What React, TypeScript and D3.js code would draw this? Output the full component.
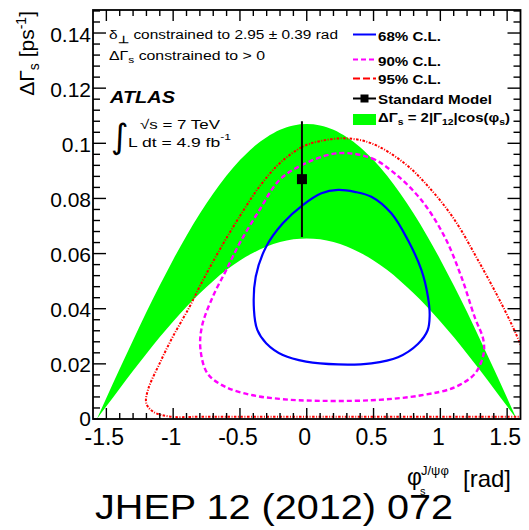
import React from "react";
import * as d3 from "d3";

// Band ΔΓs = 2|Γ12|cos(φs): edges sampled along φs
const phiGrid = [
  -1.5708, -1.5, -1.4, -1.3, -1.2, -1.1, -1.0, -0.9, -0.8, -0.7, -0.6, -0.5, -0.4, -0.3, -0.2, -0.1,
  0, 0.1, 0.2, 0.3, 0.4, 0.5, 0.6, 0.7, 0.8, 0.9, 1.0, 1.1, 1.2, 1.3, 1.4, 1.5, 1.5708,
];
const bandUpper = [
  0, 0.0076, 0.0182, 0.0286, 0.0388, 0.0485, 0.0578, 0.0665, 0.0745, 0.0818, 0.0883, 0.0939, 0.0986, 0.1022, 0.1049, 0.1065,
  0.107, 0.1065, 0.1049, 0.1022, 0.0986, 0.0939, 0.0883, 0.0818, 0.0745, 0.0665, 0.0578, 0.0485, 0.0388, 0.0286, 0.0182, 0.0076, 0,
];
const bandLower = [
  0, 0.0046, 0.0111, 0.0175, 0.0237, 0.0297, 0.0354, 0.0407, 0.0456, 0.0501, 0.0541, 0.0575, 0.0603, 0.0626, 0.0642, 0.0652,
  0.0655, 0.0652, 0.0642, 0.0626, 0.0603, 0.0575, 0.0541, 0.0501, 0.0456, 0.0407, 0.0354, 0.0297, 0.0237, 0.0175, 0.0111, 0.0046, 0,
];

// Likelihood contours in (φs [rad], ΔΓs [ps^-1])
const cl68: [number, number][] = [
  [0.234, 0.0831], [0.359, 0.0824], [0.484, 0.0806], [0.633, 0.0746], [0.757, 0.0649], [0.858, 0.0541],
  [0.907, 0.0444], [0.92, 0.0375], [0.905, 0.0322], [0.832, 0.0272], [0.683, 0.0224], [0.484, 0.0202],
  [0.234, 0.0198], [-0.005, 0.0208], [-0.179, 0.0232], [-0.304, 0.0275], [-0.37, 0.0323], [-0.395, 0.0395],
  [-0.382, 0.0516], [-0.304, 0.0625], [-0.179, 0.071], [-0.03, 0.0776], [0.11, 0.0819],
];
const cl90: [number, number][] = [
  [0.234, 0.0964], [0.484, 0.0946], [0.658, 0.0891], [0.858, 0.0794], [1.032, 0.0661], [1.157, 0.0516],
  [1.256, 0.0371], [1.322, 0.0287], [1.322, 0.0232], [1.256, 0.0163], [1.107, 0.0115], [0.858, 0.0086],
  [0.484, 0.0068], [-0.005, 0.0067], [-0.204, 0.0073], [-0.404, 0.0086], [-0.603, 0.0115], [-0.74, 0.0163],
  [-0.795, 0.025], [-0.785, 0.0335], [-0.703, 0.0444], [-0.603, 0.054], [-0.503, 0.0637], [-0.354, 0.0758],
  [-0.204, 0.0867], [-0.02, 0.0925],
];
const cl95: [number, number][] = [
  [1.66, 0.019], [1.604, 0.0265], [1.53, 0.0347], [1.43, 0.0444], [1.281, 0.0577], [1.107, 0.0722],
  [0.932, 0.0831], [0.733, 0.0927], [0.484, 0.1], [0.284, 0.1018], [0.1, 0.1008], [-0.03, 0.0988],
  [-0.204, 0.0927], [-0.354, 0.0843], [-0.503, 0.0734], [-0.653, 0.0613], [-0.802, 0.048], [-0.877, 0.0407],
  [-1.002, 0.0299], [-1.101, 0.0202], [-1.189, 0.0105], [-1.201, 0.0057], [-1.151, 0.0027], [-1.027, 0.0009],
  [-0.8, 0.0008], [0.4, 0.0008], [1.66, 0.0008],
];

// Standard Model prediction
const smPhi = -0.036;
const smDeltaGamma = 0.087;
const smError = 0.021;

const xTickValues = [-1.5, -1, -0.5, 0, 0.5, 1, 1.5];
const xTickLabels = ["-1.5", "-1", "-0.5", "0", "0.5", "1", "1.5"];
const yTickValues = [0, 0.02, 0.04, 0.06, 0.08, 0.1, 0.12, 0.14];
const yTickLabels = ["0", "0.02", "0.04", "0.06", "0.08", "0.1", "0.12", "0.14"];
const legendLabels = ["68% C.L.", "90% C.L.", "95% C.L.", "Standard Model"];

const FONT = "'Liberation Sans', Arial, Helvetica, sans-serif";

export default function App() {
  const left = 93, right = 520.5, top = 10, bottom = 419;
  const x = d3.scaleLinear().domain([-1.6, 1.6]).range([left, right]);
  const y = d3.scaleLinear().domain([0, 0.14835]).range([bottom, top]);

  const band = d3
    .area<number>()
    .x((i) => x(phiGrid[i]))
    .y0((i) => y(bandLower[i]))
    .y1((i) => y(bandUpper[i]))
    .curve(d3.curveMonotoneX)(d3.range(phiGrid.length)) as string;

  const closed = d3
    .line<[number, number]>()
    .x((d) => x(d[0]))
    .y((d) => y(d[1]))
    .curve(d3.curveCatmullRomClosed.alpha(0.5));
  const open = d3
    .line<[number, number]>()
    .x((d) => x(d[0]))
    .y((d) => y(d[1]))
    .curve(d3.curveCatmullRom.alpha(0.5));

  // ROOT-style ticks on all four sides, pointing inwards
  const xMinor = d3.range(-15, 16).map((i) => ({ v: i / 10, major: i % 5 === 0 }));
  const yMinor = d3.range(0, 38).map((i) => ({ v: i * 0.004, major: i % 5 === 0 })).filter((t) => t.v < 0.1482);

  const legX0 = 353, legX1 = 376, legText = 378;
  const legLineY = [34.5, 59.5, 78.5, 98.5];
  const legTextY = [40.5, 65.5, 84, 103.5];

  return (
    <svg width={529} height={530} style={{ position: "absolute", left: 0, top: 0, background: "#fff" }} fontFamily={FONT}>
      <defs>
        <clipPath id="frame">
          <rect x={left} y={top} width={right - left} height={bottom - top} />
        </clipPath>
      </defs>
      <rect x={0} y={0} width={529} height={530} fill="#fff" />

      <g clipPath="url(#frame)">
        <path d={band} fill="#00ff00" />
        <path d={open(cl95) as string} fill="none" stroke="#ff0000" strokeWidth={2} strokeDasharray="2.5,1.5,1,1.5" />
        <path d={closed(cl90) as string} fill="none" stroke="#ff00ff" strokeWidth={2.4} strokeDasharray="5,3" />
        <path d={closed(cl68) as string} fill="none" stroke="#0000ff" strokeWidth={2.2} />
        <line x1={x(smPhi)} x2={x(smPhi)} y1={y(smDeltaGamma + smError)} y2={y(smDeltaGamma - smError)} stroke="#000" strokeWidth={2} />
        <rect x={x(smPhi) - 5} y={y(smDeltaGamma) - 5} width={10} height={10} fill="#000" />
      </g>

      {/* frame and ticks */}
      <rect x={left} y={top} width={right - left} height={bottom - top} fill="none" stroke="#000" strokeWidth={1.8} />
      {xMinor.map((t, i) => {
        const len = t.major ? 11 : 6;
        const px = x(t.v);
        return (
          <g key={"xt" + i} stroke="#000" strokeWidth={1.4}>
            <line x1={px} x2={px} y1={bottom} y2={bottom - len} />
            <line x1={px} x2={px} y1={top} y2={top + len} />
          </g>
        );
      })}
      {yMinor.map((t, i) => {
        const len = t.major ? 13 : 7;
        const py = y(t.v);
        return (
          <g key={"yt" + i} stroke="#000" strokeWidth={1.4}>
            <line x1={left} x2={left + len} y1={py} y2={py} />
            <line x1={right} x2={right - len} y1={py} y2={py} />
          </g>
        );
      })}

      {/* tick labels */}
      {xTickValues.map((v, i) => (
        <text key={"xl" + i} x={x(v) - 2} y={445} fontSize={23} textAnchor="middle" fill="#000">
          {xTickLabels[i]}
        </text>
      ))}
      {yTickValues.map((v, i) => (
        <text key={"yl" + i} x={91} y={y(v) + (i === 0 ? 7 : 8.5)} fontSize={21} textAnchor="end" fill="#000">
          {yTickLabels[i]}
        </text>
      ))}

      {/* axis titles */}
      <text transform="translate(34,11) rotate(-90)" fontSize={21} textAnchor="end" fill="#000">
        ΔΓ<tspan fontSize={14} dy={5}>s</tspan>
        <tspan dy={-5}> [ps</tspan>
        <tspan fontSize={14} dy={-8}>-1</tspan>
        <tspan dy={8}>]</tspan>
      </text>
      <text x={407} y={485} fontSize={23} fill="#000">φ</text>
      <text x={420} y={495} fontSize={11} fill="#000">s</text>
      <text x={421} y={475} fontSize={13} fill="#000">J/ψφ</text>
      <text x={463} y={487} fontSize={24} fill="#000">[rad]</text>

      {/* annotations */}
      <text x={109} y={39} fontSize={12} textLength={229} lengthAdjust="spacingAndGlyphs" fill="#000">
        δ<tspan fontSize={10} dy={4} fontWeight="bold">⊥</tspan>
        <tspan dy={-4}> constrained to 2.95 ± 0.39 rad</tspan>
      </text>
      <text x={109} y={60} fontSize={12} textLength={156} lengthAdjust="spacingAndGlyphs" fill="#000">
        ΔΓ<tspan fontSize={9} dy={3}>s</tspan>
        <tspan dy={-3}> constrained to &gt; 0</tspan>
      </text>
      <text x={110} y={103} fontSize={16} fontWeight="bold" fontStyle="italic" textLength={65} lengthAdjust="spacingAndGlyphs" fill="#000">
        ATLAS
      </text>
      <text x={111} y={148} fontSize={34} fontFamily="'DejaVu Sans', sans-serif" fill="#000">∫</text>
      <text x={140} y={129} fontSize={13} textLength={80} lengthAdjust="spacingAndGlyphs" fill="#000">
        √s = 7 TeV
      </text>
      <text x={128} y={147} fontSize={13} textLength={103} lengthAdjust="spacingAndGlyphs" fill="#000">
        L dt = 4.9 fb<tspan fontSize={9} dy={-7}>-1</tspan>
      </text>

      {/* legend */}
      <line x1={legX0} x2={legX1} y1={legLineY[0]} y2={legLineY[0]} stroke="#0000ff" strokeWidth={2} />
      <line x1={legX0} x2={legX1} y1={legLineY[1]} y2={legLineY[1]} stroke="#ff00ff" strokeWidth={2} strokeDasharray="5,3" />
      <line x1={legX0} x2={legX1} y1={legLineY[2]} y2={legLineY[2]} stroke="#ff0000" strokeWidth={2} strokeDasharray="7,3" />
      <line x1={legX0} x2={legX1} y1={legLineY[3]} y2={legLineY[3]} stroke="#000" strokeWidth={2} />
      <rect x={(legX0 + legX1) / 2 - 4} y={legLineY[3] - 4} width={8} height={8} fill="#000" />
      <rect x={legX0} y={114} width={legX1 - legX0} height={11} fill="#00ff00" />
      {legendLabels.map((lab, i) => (
        <text key={"lg" + i} x={legText} y={legTextY[i]} fontSize={13} fontWeight="bold"
          textLength={lab === "Standard Model" ? 114 : 63} lengthAdjust="spacingAndGlyphs" fill="#000">
          {lab}
        </text>
      ))}
      <text x={legText} y={122} fontSize={13} fontWeight="bold" textLength={132} lengthAdjust="spacingAndGlyphs" fill="#000">
        ΔΓ<tspan fontSize={9} dy={3}>s</tspan>
        <tspan dy={-3}> = 2|Γ</tspan>
        <tspan fontSize={9} dy={3}>12</tspan>
        <tspan dy={-3}>|cos(φ</tspan>
        <tspan fontSize={9} dy={3}>s</tspan>
        <tspan dy={-3}>)</tspan>
      </text>

      <text x={95} y={519} fontSize={35} textLength={358} lengthAdjust="spacingAndGlyphs" fill="#000">
        JHEP 12 (2012) 072
      </text>
    </svg>
  );
}
